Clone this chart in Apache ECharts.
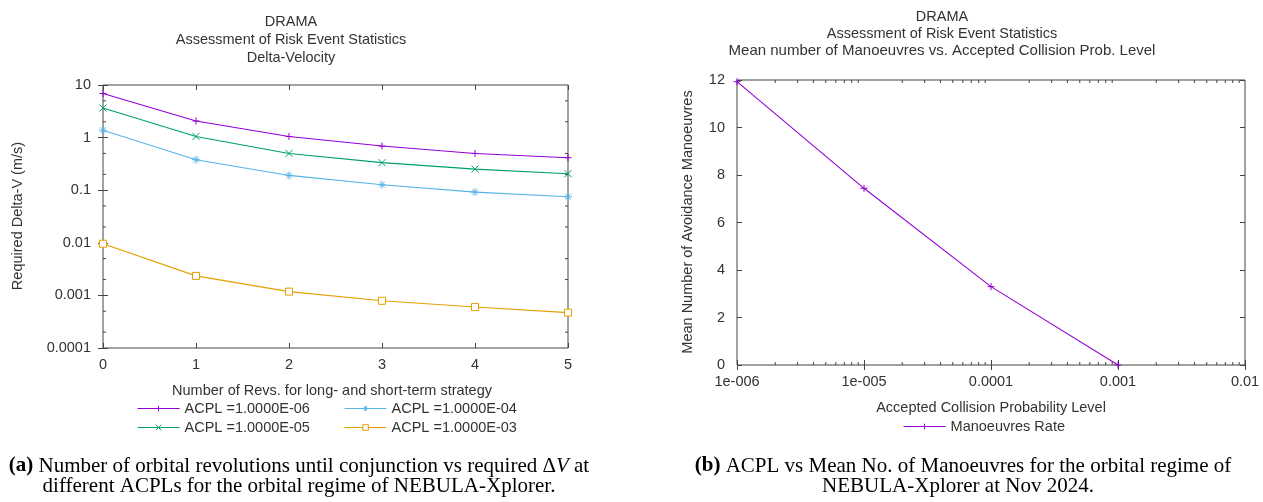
<!DOCTYPE html>
<html>
<head>
<meta charset="utf-8">
<script src="https://cdn.jsdelivr.net/npm/echarts@6/dist/echarts.min.js"></script>
<style>
  html, body { margin: 0; padding: 0; background: #fff; }
  #chart { width: 1263px; height: 502px; }
</style>
</head>
<body>
<div id="chart"></div>
<script>
// Delta-V panel: revolutions before conjunction vs required delta-V per ACPL
const revs = [0, 1, 2, 3, 4, 5];
const dvAcpl6 = [6.9, 2.07, 1.05, 0.69, 0.50, 0.415];
const dvAcpl5 = [3.66, 1.05, 0.50, 0.334, 0.252, 0.206];
const dvAcpl4 = [1.38, 0.38, 0.191, 0.127, 0.092, 0.075];
const dvAcpl3 = [0.0096, 0.00235, 0.00118, 0.00079, 0.00060, 0.00047];
const dvSeriesNames = ['ACPL =1.0000E-06', 'ACPL =1.0000E-05', 'ACPL =1.0000E-04', 'ACPL =1.0000E-03'];
const dvTickLabels = ['0.0001', '0.001', '0.01', '0.1', '1', '10'];

// Manoeuvre panel: accepted collision probability level vs mean manoeuvres
const acplLevels = [1e-6, 1e-5, 1e-4, 1e-3];
const meanManoeuvres = [11.93, 7.44, 3.30, 0];
const acplTickLabels = ['1e-006', '1e-005', '0.0001', '0.001', '0.01'];

const FONT = 'Liberation Sans, Arial, sans-serif';
const SERIF = 'Liberation Serif, Times New Roman, serif';
const TXT = '#333';
const AX = '#444';
const colors = ['#9400d3', '#009e73', '#56b4e9', '#e69f00'];
const symbols = [
  'path://M0,-1L0,1M-1,0L1,0',
  'path://M-1,-1L1,1M-1,1L1,-1',
  'path://M0,-1L0,1M-1,0L1,0M-0.7,-0.7L0.7,0.7M-0.7,0.7L0.7,-0.7',
  'path://M-1,-1L1,-1L1,1L-1,1Z'
];

const zip = (xs, ys) => xs.map((x, i) => [x, ys[i]]);
const dvData = [dvAcpl6, dvAcpl5, dvAcpl4, dvAcpl3];

// minor ticks of the log axes (2 and 5 per decade on the delta-V axis, 2..9 on the ACPL axis)
const dvMinor = [];
for (let k = -4; k <= 0; k++) { dvMinor.push([0, 2 * Math.pow(10, k)]); dvMinor.push([0, 5 * Math.pow(10, k)]); }
const acplMinor = [];
for (let k = -6; k <= -3; k++) for (let m = 2; m <= 9; m++) acplMinor.push([m * Math.pow(10, k), 0]);

const tickStyle = { show: true, inside: true, length: 5, lineStyle: { color: AX, width: 1 } };
const labelStyle = { color: TXT, fontFamily: FONT, fontSize: 14.5 };

function axisBase(extra) {
  return Object.assign({
    axisLine: { show: false },
    axisTick: tickStyle,
    splitLine: { show: false },
    axisLabel: Object.assign({}, labelStyle)
  }, extra);
}

const dvLabel = v => dvTickLabels[Math.round(Math.log10(v)) + 4];
const acplLabel = v => acplTickLabels[Math.round(Math.log10(v)) + 6];

const series = dvData.map((ys, i) => ({
  name: dvSeriesNames[i],
  type: 'line',
  xAxisIndex: 0,
  yAxisIndex: 0,
  data: zip(revs, ys),
  symbol: symbols[i],
  symbolSize: i === 2 ? 8 : 7,
  showSymbol: true,
  lineStyle: { color: colors[i], width: 1.1 },
  itemStyle: { color: i === 3 ? '#fff' : colors[i], borderColor: colors[i], borderWidth: 1 },
  emphasis: { disabled: true },
  animation: false,
  z: 5
}));

series.push({
  name: 'Manoeuvres Rate',
  type: 'line',
  xAxisIndex: 2,
  yAxisIndex: 2,
  data: zip(acplLevels, meanManoeuvres),
  symbol: symbols[0],
  symbolSize: 7,
  lineStyle: { color: colors[0], width: 1.1 },
  itemStyle: { color: colors[0], borderColor: colors[0], borderWidth: 1 },
  emphasis: { disabled: true },
  animation: false,
  z: 5
});

series.push({
  type: 'custom',
  xAxisIndex: 0,
  yAxisIndex: 0,
  silent: true,
  clip: false,
  data: dvMinor,
  renderItem: (params, api) => {
    const v = api.value(1);
    const a = api.coord([0, v]);
    const b = api.coord([5, v]);
    const st = { stroke: AX, lineWidth: 1 };
    return { type: 'group', children: [
      { type: 'line', shape: { x1: a[0], y1: a[1], x2: a[0] + 3, y2: a[1] }, style: st },
      { type: 'line', shape: { x1: b[0] - 3, y1: b[1], x2: b[0], y2: b[1] }, style: st }
    ] };
  }
});

series.push({
  type: 'custom',
  xAxisIndex: 2,
  yAxisIndex: 2,
  silent: true,
  clip: false,
  data: acplMinor,
  renderItem: (params, api) => {
    const v = api.value(0);
    const a = api.coord([v, 0]);
    const b = api.coord([v, 12]);
    const st = { stroke: AX, lineWidth: 1 };
    return { type: 'group', children: [
      { type: 'line', shape: { x1: a[0], y1: a[1], x2: a[0], y2: a[1] - 3 }, style: st },
      { type: 'line', shape: { x1: b[0], y1: b[1], x2: b[0], y2: b[1] + 3 }, style: st }
    ] };
  }
});

function textEl(text, x, y, opts) {
  return Object.assign({
    type: 'text', x: x, y: y, silent: true,
    style: Object.assign({ text: text, fill: TXT, font: '14.5px ' + FONT, align: 'center', verticalAlign: 'middle' }, opts || {})
  });
}

function caption(text, x, y) {
  const base = { fontFamily: SERIF, fontSize: 21, fill: '#000' };
  return {
    type: 'text', x: x, y: y, silent: true,
    style: {
      text: text, align: 'center', verticalAlign: 'middle',
      fontFamily: SERIF, fontSize: 21, fill: '#000',
      rich: {
        b: Object.assign({ fontWeight: 'bold' }, base),
        i: Object.assign({ fontStyle: 'italic' }, base),
        n: Object.assign({}, base)
      }
    }
  };
}

const legendText = { color: TXT, fontFamily: FONT, fontSize: 14.5 };
const legendCommon = {
  orient: 'vertical', itemWidth: 42, itemHeight: 7, itemGap: 4, selectedMode: false, padding: 0,
  textStyle: legendText,
  lineStyle: { width: 1.1, color: 'inherit' },
  itemStyle: { borderWidth: 1, color: 'inherit', borderColor: 'inherit' }
};

const option = {
  animation: false,
  backgroundColor: '#fff',
  grid: [
    { left: 103, top: 85, width: 465, height: 263, show: true, borderColor: AX, borderWidth: 1, backgroundColor: 'transparent' },
    { left: 737, top: 80, width: 508, height: 285, show: true, borderColor: AX, borderWidth: 1, backgroundColor: 'transparent' }
  ],
  xAxis: [
    axisBase({ gridIndex: 0, type: 'value', min: 0, max: 5, interval: 1, position: 'bottom', axisLabel: Object.assign({ margin: 9 }, labelStyle) }),
    axisBase({ gridIndex: 0, type: 'value', min: 0, max: 5, interval: 1, position: 'top', axisLabel: { show: false } }),
    axisBase({ gridIndex: 1, type: 'log', logBase: 10, min: 1e-6, max: 1e-2, position: 'bottom', axisLabel: Object.assign({ margin: 9, formatter: acplLabel, showMinLabel: true, showMaxLabel: true }, labelStyle) }),
    axisBase({ gridIndex: 1, type: 'log', logBase: 10, min: 1e-6, max: 1e-2, position: 'top', axisLabel: { show: false } })
  ],
  yAxis: [
    axisBase({ gridIndex: 0, type: 'log', logBase: 10, min: 1e-4, max: 10, position: 'left', axisLabel: Object.assign({ margin: 12, formatter: dvLabel }, labelStyle) }),
    axisBase({ gridIndex: 0, type: 'log', logBase: 10, min: 1e-4, max: 10, position: 'right', axisLabel: { show: false } }),
    axisBase({ gridIndex: 1, type: 'value', min: 0, max: 12, interval: 2, position: 'left', axisLabel: Object.assign({ margin: 12 }, labelStyle) }),
    axisBase({ gridIndex: 1, type: 'value', min: 0, max: 12, interval: 2, position: 'right', axisLabel: { show: false } })
  ],
  legend: [
    Object.assign({ left: 137, top: 401, data: [dvSeriesNames[0], dvSeriesNames[1]] }, legendCommon),
    Object.assign({ left: 344, top: 401, data: [dvSeriesNames[2], dvSeriesNames[3]] }, legendCommon),
    Object.assign({ left: 903, top: 419, data: ['Manoeuvres Rate'] }, legendCommon)
  ],
  graphic: [
    textEl('DRAMA', 291, 22),
    textEl('Assessment of Risk Event Statistics', 291, 40),
    textEl('Delta-Velocity', 291, 58),
    textEl('DRAMA', 942, 17),
    textEl('Assessment of Risk Event Statistics', 942, 34),
    textEl('Mean number of Manoeuvres vs. Accepted Collision Prob. Level', 942, 51, { font: '15px ' + FONT }),
    Object.assign(textEl('Required Delta-V (m/s)', 18, 216), { rotation: Math.PI / 2 }),
    Object.assign(textEl('Mean Number of Avoidance Manoeuvres', 688, 222), { rotation: Math.PI / 2 }),
    textEl('Number of Revs. for long- and short-term strategy', 332, 391),
    textEl('Accepted Collision Probability Level', 991, 408),
    caption('{b|(a)} Number of orbital revolutions until conjunction vs required {n|Δ}{i|V} at', 299, 466),
    caption('different ACPLs for the orbital regime of NEBULA-Xplorer.', 299, 486),
    caption('{b|(b)} ACPL vs Mean No. of Manoeuvres for the orbital regime of', 963, 466),
    caption('NEBULA-Xplorer at Nov 2024.', 958, 486)
  ],
  series: series
};

const chart = echarts.init(document.getElementById('chart'), null, { renderer: 'canvas' });
chart.setOption(option);
</script>
</body>
</html>
